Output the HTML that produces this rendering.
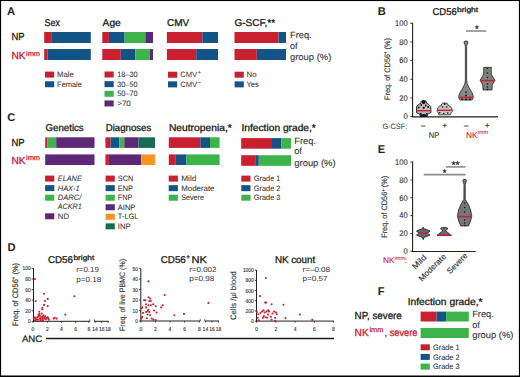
<!DOCTYPE html>
<html><head><meta charset="utf-8"><style>
html,body{margin:0;padding:0;background:#fff;}
svg{display:block;} text{text-rendering:geometricPrecision;}
</style></head><body>
<svg width="520" height="377" viewBox="0 0 520 377" font-family="Liberation Sans, sans-serif">
<rect width="520" height="377" fill="#fff"/>
<rect x="0.00" y="0.00" width="520.00" height="1.05" fill="#000"/>
<rect x="0.00" y="0.00" width="1.10" height="377.00" fill="#000"/>
<rect x="518.90" y="0.00" width="1.10" height="377.00" fill="#000"/>
<rect x="0.00" y="375.50" width="520.00" height="1.50" fill="#000"/>
<text x="7.00" y="14.60" font-size="11.2" fill="#231f20" font-weight="bold" text-anchor="start">A</text>
<text x="44.60" y="26.00" font-size="9.9" fill="#231f20" text-anchor="start" textLength="15.40" lengthAdjust="spacingAndGlyphs" stroke="#231f20" stroke-width="0.32">Sex</text>
<text x="102.60" y="25.80" font-size="9.9" fill="#231f20" text-anchor="start" textLength="18.20" lengthAdjust="spacingAndGlyphs" stroke="#231f20" stroke-width="0.32">Age</text>
<text x="167.00" y="26.00" font-size="9.9" fill="#231f20" text-anchor="start" textLength="22.30" lengthAdjust="spacingAndGlyphs" stroke="#231f20" stroke-width="0.32">CMV</text>
<text x="234.50" y="26.00" font-size="9.9" fill="#231f20" text-anchor="start" textLength="40.60" lengthAdjust="spacingAndGlyphs" stroke="#231f20" stroke-width="0.32">G-SCF,**</text>
<text x="11.50" y="40.40" font-size="10.2" fill="#231f20" text-anchor="start" textLength="13.10" lengthAdjust="spacingAndGlyphs" stroke="#231f20" stroke-width="0.3">NP</text>
<text x="11.50" y="59.20" font-size="10.2" fill="#c8202f" text-anchor="start" textLength="14.10" lengthAdjust="spacingAndGlyphs" stroke="#c8202f" stroke-width="0.3">NK</text>
<text x="26.00" y="55.80" font-size="7" fill="#c8202f" text-anchor="start" textLength="14.00" lengthAdjust="spacingAndGlyphs" stroke="#c8202f" stroke-width="0.25">imm</text>
<rect x="44.20" y="32.00" width="7.00" height="11.00" fill="#c8202f"/>
<rect x="51.20" y="32.00" width="39.60" height="11.00" fill="#145385"/>
<rect x="44.20" y="49.00" width="3.30" height="11.00" fill="#c8202f"/>
<rect x="47.50" y="49.00" width="43.30" height="11.00" fill="#145385"/>
<rect x="102.30" y="32.00" width="6.60" height="11.00" fill="#c8202f"/>
<rect x="108.90" y="32.00" width="15.70" height="11.00" fill="#145385"/>
<rect x="124.60" y="32.00" width="20.80" height="11.00" fill="#3cb44a"/>
<rect x="145.40" y="32.00" width="7.60" height="11.00" fill="#5c2877"/>
<rect x="102.30" y="49.00" width="18.50" height="11.00" fill="#c8202f"/>
<rect x="120.80" y="49.00" width="14.60" height="11.00" fill="#145385"/>
<rect x="135.40" y="49.00" width="14.30" height="11.00" fill="#3cb44a"/>
<rect x="149.70" y="49.00" width="3.30" height="11.00" fill="#5c2877"/>
<rect x="166.90" y="32.00" width="35.40" height="11.00" fill="#c8202f"/>
<rect x="202.30" y="32.00" width="15.70" height="11.00" fill="#145385"/>
<rect x="166.90" y="49.00" width="29.30" height="11.00" fill="#c8202f"/>
<rect x="196.20" y="49.00" width="21.80" height="11.00" fill="#145385"/>
<rect x="234.50" y="32.00" width="44.00" height="11.00" fill="#c8202f"/>
<rect x="278.50" y="32.00" width="7.50" height="11.00" fill="#145385"/>
<rect x="234.50" y="49.00" width="22.30" height="11.00" fill="#c8202f"/>
<rect x="256.80" y="49.00" width="29.20" height="11.00" fill="#145385"/>
<text x="290.00" y="37.70" font-size="9.1" fill="#333" text-anchor="start" textLength="21.60" lengthAdjust="spacingAndGlyphs" stroke="#333" stroke-width="0.1">Freq.</text>
<text x="290.00" y="48.80" font-size="9.1" fill="#333" text-anchor="start" stroke="#333" stroke-width="0.1">of</text>
<text x="290.00" y="60.30" font-size="9.1" fill="#333" text-anchor="start" textLength="41.30" lengthAdjust="spacingAndGlyphs" stroke="#333" stroke-width="0.1">group (%)</text>
<rect x="45.00" y="71.60" width="9.20" height="6.00" fill="#c8202f"/>
<text x="57.10" y="77.20" font-size="7.8" fill="#333" text-anchor="start" textLength="16.70" lengthAdjust="spacingAndGlyphs" stroke="#333" stroke-width="0.06">Male</text>
<rect x="45.00" y="81.25" width="9.20" height="6.00" fill="#145385"/>
<text x="57.10" y="86.85" font-size="7.8" fill="#333" text-anchor="start" textLength="24.80" lengthAdjust="spacingAndGlyphs" stroke="#333" stroke-width="0.06">Female</text>
<rect x="104.50" y="71.50" width="9.20" height="6.00" fill="#c8202f"/>
<text x="117.30" y="77.10" font-size="7.8" fill="#333" text-anchor="start" textLength="20.20" lengthAdjust="spacingAndGlyphs" stroke="#333" stroke-width="0.06">18–30</text>
<rect x="104.50" y="81.15" width="9.20" height="6.00" fill="#145385"/>
<text x="117.30" y="86.75" font-size="7.8" fill="#333" text-anchor="start" textLength="20.20" lengthAdjust="spacingAndGlyphs" stroke="#333" stroke-width="0.06">30–50</text>
<rect x="104.50" y="90.80" width="9.20" height="6.00" fill="#3cb44a"/>
<text x="117.30" y="96.40" font-size="7.8" fill="#333" text-anchor="start" textLength="20.20" lengthAdjust="spacingAndGlyphs" stroke="#333" stroke-width="0.06">50–70</text>
<rect x="104.50" y="100.45" width="9.20" height="6.00" fill="#5c2877"/>
<text x="117.30" y="106.05" font-size="7.8" fill="#333" text-anchor="start" textLength="13.50" lengthAdjust="spacingAndGlyphs" stroke="#333" stroke-width="0.06">&gt;70</text>
<rect x="168.00" y="71.70" width="9.20" height="6.00" fill="#c8202f"/>
<rect x="168.00" y="81.35" width="9.20" height="6.00" fill="#145385"/>
<text x="180.20" y="77.30" font-size="7.8" fill="#333" text-anchor="start" textLength="17.00" lengthAdjust="spacingAndGlyphs">CMV</text>
<text x="197.80" y="74.20" font-size="5.5" fill="#333" text-anchor="start" stroke="#333" stroke-width="0.15">+</text>
<text x="180.20" y="86.90" font-size="7.8" fill="#333" text-anchor="start" textLength="17.00" lengthAdjust="spacingAndGlyphs">CMV</text>
<text x="197.80" y="83.80" font-size="5.5" fill="#333" text-anchor="start" stroke="#333" stroke-width="0.15">–</text>
<rect x="234.60" y="71.70" width="9.20" height="6.00" fill="#c8202f"/>
<text x="246.50" y="77.30" font-size="7.8" fill="#333" text-anchor="start" textLength="10.00" lengthAdjust="spacingAndGlyphs" stroke="#333" stroke-width="0.06">No</text>
<rect x="234.60" y="81.35" width="9.20" height="6.00" fill="#145385"/>
<text x="246.50" y="86.95" font-size="7.8" fill="#333" text-anchor="start" textLength="12.20" lengthAdjust="spacingAndGlyphs" stroke="#333" stroke-width="0.06">Yes</text>
<text x="7.30" y="120.80" font-size="11.2" fill="#231f20" font-weight="bold" text-anchor="start">C</text>
<text x="45.60" y="131.00" font-size="9.9" fill="#231f20" text-anchor="start" textLength="38.10" lengthAdjust="spacingAndGlyphs" stroke="#231f20" stroke-width="0.32">Genetics</text>
<text x="105.80" y="130.80" font-size="9.9" fill="#231f20" text-anchor="start" textLength="45.40" lengthAdjust="spacingAndGlyphs" stroke="#231f20" stroke-width="0.32">Diagnoses</text>
<text x="168.90" y="130.80" font-size="9.9" fill="#231f20" text-anchor="start" textLength="62.90" lengthAdjust="spacingAndGlyphs" stroke="#231f20" stroke-width="0.32">Neutropenia,*</text>
<text x="241.50" y="130.80" font-size="9.9" fill="#231f20" text-anchor="start" textLength="74.30" lengthAdjust="spacingAndGlyphs" stroke="#231f20" stroke-width="0.32">Infection grade,*</text>
<text x="11.50" y="145.80" font-size="10.2" fill="#231f20" text-anchor="start" textLength="13.10" lengthAdjust="spacingAndGlyphs" stroke="#231f20" stroke-width="0.3">NP</text>
<text x="11.50" y="163.60" font-size="10.2" fill="#c8202f" text-anchor="start" textLength="14.10" lengthAdjust="spacingAndGlyphs" stroke="#c8202f" stroke-width="0.3">NK</text>
<text x="26.00" y="160.20" font-size="7" fill="#c8202f" text-anchor="start" textLength="14.00" lengthAdjust="spacingAndGlyphs" stroke="#c8202f" stroke-width="0.25">imm</text>
<rect x="45.20" y="137.30" width="2.30" height="10.60" fill="#c8202f"/>
<rect x="47.50" y="137.30" width="8.70" height="10.60" fill="#3cb44a"/>
<rect x="56.20" y="137.30" width="38.30" height="10.60" fill="#5c2877"/>
<rect x="45.20" y="154.40" width="49.30" height="10.60" fill="#5c2877"/>
<rect x="105.40" y="137.30" width="5.10" height="10.60" fill="#c8202f"/>
<rect x="110.50" y="137.30" width="8.70" height="10.60" fill="#145385"/>
<rect x="119.20" y="137.30" width="5.10" height="10.60" fill="#3cb44a"/>
<rect x="124.30" y="137.30" width="14.20" height="10.60" fill="#5c2877"/>
<rect x="138.50" y="137.30" width="16.60" height="10.60" fill="#166b53"/>
<rect x="105.40" y="154.40" width="3.50" height="10.60" fill="#c8202f"/>
<rect x="108.90" y="154.40" width="32.30" height="10.60" fill="#5c2877"/>
<rect x="141.20" y="154.40" width="13.90" height="10.60" fill="#f6941f"/>
<rect x="168.80" y="137.30" width="31.50" height="10.60" fill="#c8202f"/>
<rect x="200.30" y="137.30" width="9.70" height="10.60" fill="#145385"/>
<rect x="210.00" y="137.30" width="9.60" height="10.60" fill="#3cb44a"/>
<rect x="168.80" y="154.40" width="7.00" height="10.60" fill="#c8202f"/>
<rect x="175.80" y="154.40" width="10.70" height="10.60" fill="#145385"/>
<rect x="186.50" y="154.40" width="33.10" height="10.60" fill="#3cb44a"/>
<rect x="241.20" y="138.10" width="30.80" height="10.60" fill="#c8202f"/>
<rect x="272.00" y="138.10" width="9.50" height="10.60" fill="#145385"/>
<rect x="281.50" y="138.10" width="9.50" height="10.60" fill="#3cb44a"/>
<rect x="241.20" y="155.20" width="14.00" height="10.60" fill="#c8202f"/>
<rect x="255.20" y="155.20" width="3.60" height="10.60" fill="#145385"/>
<rect x="258.80" y="155.20" width="32.20" height="10.60" fill="#3cb44a"/>
<text x="294.30" y="143.60" font-size="9.1" fill="#333" text-anchor="start" textLength="21.60" lengthAdjust="spacingAndGlyphs" stroke="#333" stroke-width="0.1">Freq.</text>
<text x="294.30" y="154.40" font-size="9.1" fill="#333" text-anchor="start" stroke="#333" stroke-width="0.1">of</text>
<text x="294.30" y="166.20" font-size="9.1" fill="#333" text-anchor="start" textLength="41.30" lengthAdjust="spacingAndGlyphs" stroke="#333" stroke-width="0.1">group (%)</text>
<rect x="45.10" y="175.60" width="9.20" height="6.00" fill="#c8202f"/>
<text x="57.80" y="181.20" font-size="7.8" fill="#333" font-style="italic" text-anchor="start" textLength="24.00" lengthAdjust="spacingAndGlyphs" stroke="#333" stroke-width="0.06">ELANE</text>
<rect x="45.10" y="185.10" width="9.20" height="6.00" fill="#145385"/>
<text x="57.80" y="190.70" font-size="7.8" fill="#333" font-style="italic" text-anchor="start" textLength="21.90" lengthAdjust="spacingAndGlyphs" stroke="#333" stroke-width="0.06">HAX-1</text>
<rect x="45.10" y="194.70" width="9.20" height="6.00" fill="#3cb44a"/>
<text x="57.80" y="200.30" font-size="7.8" fill="#333" font-style="italic" text-anchor="start" textLength="23.50" lengthAdjust="spacingAndGlyphs" stroke="#333" stroke-width="0.06">DARC/</text>
<text x="57.80" y="209.00" font-size="7.8" fill="#333" font-style="italic" text-anchor="start" textLength="24.00" lengthAdjust="spacingAndGlyphs" stroke="#333" stroke-width="0.06">ACKR1</text>
<rect x="45.10" y="213.30" width="9.20" height="6.00" fill="#5c2877"/>
<text x="57.80" y="218.90" font-size="7.8" fill="#333" text-anchor="start" textLength="11.20" lengthAdjust="spacingAndGlyphs" stroke="#333" stroke-width="0.06">ND</text>
<rect x="105.60" y="175.60" width="9.20" height="6.00" fill="#c8202f"/>
<text x="117.80" y="181.20" font-size="7.8" fill="#333" text-anchor="start" textLength="15.50" lengthAdjust="spacingAndGlyphs" stroke="#333" stroke-width="0.06">SCN</text>
<rect x="105.60" y="185.15" width="9.20" height="6.00" fill="#145385"/>
<text x="117.80" y="190.75" font-size="7.8" fill="#333" text-anchor="start" textLength="15.20" lengthAdjust="spacingAndGlyphs" stroke="#333" stroke-width="0.06">ENP</text>
<rect x="105.60" y="194.70" width="9.20" height="6.00" fill="#3cb44a"/>
<text x="117.80" y="200.30" font-size="7.8" fill="#333" text-anchor="start" textLength="14.70" lengthAdjust="spacingAndGlyphs" stroke="#333" stroke-width="0.06">FNP</text>
<rect x="105.60" y="204.25" width="9.20" height="6.00" fill="#5c2877"/>
<text x="117.80" y="209.85" font-size="7.8" fill="#333" text-anchor="start" textLength="17.60" lengthAdjust="spacingAndGlyphs" stroke="#333" stroke-width="0.06">AINP</text>
<rect x="105.60" y="213.80" width="9.20" height="6.00" fill="#f6941f"/>
<text x="117.80" y="219.40" font-size="7.8" fill="#333" text-anchor="start" textLength="20.60" lengthAdjust="spacingAndGlyphs" stroke="#333" stroke-width="0.06">T-LGL</text>
<rect x="105.60" y="223.35" width="9.20" height="6.00" fill="#166b53"/>
<text x="117.80" y="228.95" font-size="7.8" fill="#333" text-anchor="start" textLength="12.80" lengthAdjust="spacingAndGlyphs" stroke="#333" stroke-width="0.06">INP</text>
<rect x="168.70" y="175.60" width="9.20" height="6.00" fill="#c8202f"/>
<text x="181.20" y="181.20" font-size="7.8" fill="#333" text-anchor="start" textLength="15.10" lengthAdjust="spacingAndGlyphs" stroke="#333" stroke-width="0.06">Mild</text>
<rect x="168.70" y="185.15" width="9.20" height="6.00" fill="#145385"/>
<text x="181.20" y="190.75" font-size="7.8" fill="#333" text-anchor="start" textLength="33.30" lengthAdjust="spacingAndGlyphs" stroke="#333" stroke-width="0.06">Moderate</text>
<rect x="168.70" y="194.70" width="9.20" height="6.00" fill="#3cb44a"/>
<text x="181.20" y="200.30" font-size="7.8" fill="#333" text-anchor="start" textLength="22.80" lengthAdjust="spacingAndGlyphs" stroke="#333" stroke-width="0.06">Severe</text>
<rect x="241.30" y="175.60" width="9.20" height="6.00" fill="#c8202f"/>
<text x="253.70" y="181.20" font-size="7.8" fill="#333" text-anchor="start" textLength="26.80" lengthAdjust="spacingAndGlyphs" stroke="#333" stroke-width="0.06">Grade 1</text>
<rect x="241.30" y="185.15" width="9.20" height="6.00" fill="#145385"/>
<text x="253.70" y="190.75" font-size="7.8" fill="#333" text-anchor="start" textLength="26.80" lengthAdjust="spacingAndGlyphs" stroke="#333" stroke-width="0.06">Grade 2</text>
<rect x="241.30" y="194.70" width="9.20" height="6.00" fill="#3cb44a"/>
<text x="253.70" y="200.30" font-size="7.8" fill="#333" text-anchor="start" textLength="26.80" lengthAdjust="spacingAndGlyphs" stroke="#333" stroke-width="0.06">Grade 3</text>
<text x="377.70" y="295.00" font-size="11.2" fill="#231f20" font-weight="bold" text-anchor="start">F</text>
<text x="407.70" y="304.70" font-size="9.9" fill="#231f20" text-anchor="start" textLength="74.90" lengthAdjust="spacingAndGlyphs" stroke="#231f20" stroke-width="0.32">Infection grade,*</text>
<text x="354.60" y="318.50" font-size="10.2" fill="#231f20" text-anchor="start" textLength="47.20" lengthAdjust="spacingAndGlyphs" stroke="#231f20" stroke-width="0.3">NP, severe</text>
<text x="354.60" y="335.50" font-size="10.2" fill="#c8202f" text-anchor="start" textLength="14.10" lengthAdjust="spacingAndGlyphs" stroke="#c8202f" stroke-width="0.3">NK</text>
<text x="369.40" y="332.00" font-size="7" fill="#c8202f" text-anchor="start" textLength="14.00" lengthAdjust="spacingAndGlyphs" stroke="#c8202f" stroke-width="0.25">imm</text>
<text x="384.50" y="335.50" font-size="10.2" fill="#c8202f" text-anchor="start" textLength="32.90" lengthAdjust="spacingAndGlyphs" stroke="#c8202f" stroke-width="0.3">, severe</text>
<rect x="420.60" y="311.60" width="15.90" height="9.90" fill="#c8202f"/>
<rect x="436.50" y="311.60" width="9.60" height="9.90" fill="#145385"/>
<rect x="446.10" y="311.60" width="22.70" height="9.90" fill="#3cb44a"/>
<rect x="420.60" y="328.00" width="48.20" height="10.00" fill="#3cb44a"/>
<text x="472.20" y="317.30" font-size="9.1" fill="#333" text-anchor="start" textLength="21.60" lengthAdjust="spacingAndGlyphs" stroke="#333" stroke-width="0.1">Freq.</text>
<text x="472.20" y="327.80" font-size="9.1" fill="#333" text-anchor="start" stroke="#333" stroke-width="0.1">of</text>
<text x="472.20" y="338.40" font-size="9.1" fill="#333" text-anchor="start" textLength="41.30" lengthAdjust="spacingAndGlyphs" stroke="#333" stroke-width="0.1">group (%)</text>
<rect x="420.60" y="344.30" width="9.20" height="6.00" fill="#c8202f"/>
<text x="432.90" y="349.90" font-size="7.8" fill="#333" text-anchor="start" textLength="26.80" lengthAdjust="spacingAndGlyphs" stroke="#333" stroke-width="0.06">Grade 1</text>
<rect x="420.60" y="353.90" width="9.20" height="6.00" fill="#145385"/>
<text x="432.90" y="359.50" font-size="7.8" fill="#333" text-anchor="start" textLength="26.80" lengthAdjust="spacingAndGlyphs" stroke="#333" stroke-width="0.06">Grade 2</text>
<rect x="420.60" y="363.60" width="9.20" height="6.00" fill="#3cb44a"/>
<text x="432.90" y="369.20" font-size="7.8" fill="#333" text-anchor="start" textLength="26.80" lengthAdjust="spacingAndGlyphs" stroke="#333" stroke-width="0.06">Grade 3</text>
<text x="377.70" y="15.00" font-size="11.2" fill="#231f20" font-weight="bold" text-anchor="start">B</text>
<text x="432.50" y="15.00" font-size="9.9" fill="#231f20" text-anchor="start" textLength="24.30" lengthAdjust="spacingAndGlyphs" stroke="#231f20" stroke-width="0.32">CD56</text>
<text x="457.00" y="11.60" font-size="6.9" fill="#231f20" text-anchor="start" textLength="21.20" lengthAdjust="spacingAndGlyphs" stroke="#231f20" stroke-width="0.3">bright</text>
<line x1="412.60" y1="22.80" x2="412.60" y2="117.10" stroke="#231f20" stroke-width="1.1"/>
<line x1="410.40" y1="116.60" x2="412.60" y2="116.60" stroke="#231f20" stroke-width="0.9"/>
<text x="407.60" y="119.40" font-size="8.2" fill="#333" text-anchor="end" textLength="4.20" lengthAdjust="spacingAndGlyphs" stroke="#333" stroke-width="0.1">0</text>
<line x1="410.40" y1="97.94" x2="412.60" y2="97.94" stroke="#231f20" stroke-width="0.9"/>
<text x="407.60" y="100.74" font-size="8.2" fill="#333" text-anchor="end" textLength="8.40" lengthAdjust="spacingAndGlyphs" stroke="#333" stroke-width="0.1">20</text>
<line x1="410.40" y1="79.28" x2="412.60" y2="79.28" stroke="#231f20" stroke-width="0.9"/>
<text x="407.60" y="82.08" font-size="8.2" fill="#333" text-anchor="end" textLength="8.40" lengthAdjust="spacingAndGlyphs" stroke="#333" stroke-width="0.1">40</text>
<line x1="410.40" y1="60.62" x2="412.60" y2="60.62" stroke="#231f20" stroke-width="0.9"/>
<text x="407.60" y="63.42" font-size="8.2" fill="#333" text-anchor="end" textLength="8.40" lengthAdjust="spacingAndGlyphs" stroke="#333" stroke-width="0.1">60</text>
<line x1="410.40" y1="41.96" x2="412.60" y2="41.96" stroke="#231f20" stroke-width="0.9"/>
<text x="407.60" y="44.76" font-size="8.2" fill="#333" text-anchor="end" textLength="8.40" lengthAdjust="spacingAndGlyphs" stroke="#333" stroke-width="0.1">80</text>
<line x1="410.40" y1="23.30" x2="412.60" y2="23.30" stroke="#231f20" stroke-width="0.9"/>
<text x="407.60" y="26.10" font-size="8.2" fill="#333" text-anchor="end" textLength="12.60" lengthAdjust="spacingAndGlyphs" stroke="#333" stroke-width="0.1">100</text>
<line x1="412.00" y1="116.90" x2="498.00" y2="116.90" stroke="#231f20" stroke-width="1.1"/>
<text transform="translate(389.60,69.00) rotate(-90)" font-size="7.9" fill="#333" stroke="#333" stroke-width="0.14" text-anchor="middle" textLength="62.00" lengthAdjust="spacingAndGlyphs">Freq. of CD56<tspan dy="-2.6" font-size="4.6">+</tspan><tspan dy="2.6"> (%)</tspan></text>
<text x="407.30" y="128.60" font-size="7.8" fill="#333" text-anchor="end" textLength="24.90" lengthAdjust="spacingAndGlyphs">G-CSF:</text>
<text x="423.20" y="128.30" font-size="7.8" fill="#333" text-anchor="middle" stroke="#333" stroke-width="0.25">–</text>
<text x="444.70" y="128.30" font-size="7.8" fill="#333" text-anchor="middle" stroke="#333" stroke-width="0.25">+</text>
<text x="466.20" y="128.30" font-size="7.8" fill="#333" text-anchor="middle" stroke="#333" stroke-width="0.25">–</text>
<text x="487.30" y="128.30" font-size="7.8" fill="#333" text-anchor="middle" stroke="#333" stroke-width="0.25">+</text>
<text x="428.80" y="137.70" font-size="8.3" fill="#333" text-anchor="start" textLength="10.60" lengthAdjust="spacingAndGlyphs" stroke="#333" stroke-width="0.1">NP</text>
<text x="466.00" y="137.60" font-size="8.3" fill="#c8202f" text-anchor="start" textLength="11.50" lengthAdjust="spacingAndGlyphs" stroke="#c8202f" stroke-width="0.1">NK</text>
<text x="477.60" y="134.40" font-size="5.6" fill="#c8202f" text-anchor="start" textLength="10.60" lengthAdjust="spacingAndGlyphs" stroke="#c8202f" stroke-width="0.05">imm</text>
<line x1="466.00" y1="31.00" x2="486.30" y2="31.00" stroke="#8c8c8c" stroke-width="1.6"/>
<text x="476.90" y="32.20" font-size="9.5" fill="#222" text-anchor="middle" stroke="#222" stroke-width="0.25">*</text>
<path d="M421.70,101.00 L421.10,101.60 L421.10,103.00 L419.50,103.80 L418.10,105.00 L416.70,106.50 L416.40,112.50 L418.50,113.50 L420.10,114.50 L420.10,116.40 L427.30,116.40 L427.30,114.50 L428.90,113.50 L431.00,112.50 L430.70,106.50 L429.30,105.00 L427.90,103.80 L426.30,103.00 L426.30,101.60 L425.70,101.00Z" fill="#bdbdbd" stroke="#111" stroke-width="0.9" stroke-linejoin="round"/>
<circle cx="423.70" cy="102.00" r="1.9" fill="#111"/>
<circle cx="421.20" cy="105.00" r="0.9" fill="#111"/>
<circle cx="425.70" cy="105.50" r="0.9" fill="#111"/>
<circle cx="418.70" cy="107.50" r="1" fill="#111"/>
<circle cx="428.20" cy="107.00" r="1" fill="#111"/>
<circle cx="423.70" cy="107.80" r="1.1" fill="#111"/>
<circle cx="420.70" cy="113.80" r="1" fill="#111"/>
<circle cx="426.70" cy="113.80" r="1" fill="#111"/>
<circle cx="423.70" cy="115.40" r="1.6" fill="#111"/>
<circle cx="421.70" cy="115.60" r="1.3" fill="#111"/>
<circle cx="425.70" cy="115.60" r="1.3" fill="#111"/>
<line x1="416.50" y1="110.70" x2="430.90" y2="110.70" stroke="#c8202f" stroke-width="1.4"/>
<path d="M442.70,103.10 L441.50,104.00 L441.50,105.40 L439.20,106.20 L437.50,108.50 L437.10,111.50 L438.10,112.50 L438.90,114.80 L450.50,114.80 L451.30,112.50 L452.30,111.50 L451.90,108.50 L450.20,106.20 L447.90,105.40 L447.90,104.00 L446.70,103.10Z" fill="#c4c4c4" stroke="#111" stroke-width="0.7" stroke-linejoin="round"/>
<circle cx="444.70" cy="104.00" r="0.9" fill="#111"/>
<circle cx="442.70" cy="107.00" r="0.8" fill="#111"/>
<circle cx="446.70" cy="107.00" r="0.8" fill="#111"/>
<circle cx="439.70" cy="112.80" r="0.8" fill="#111"/>
<circle cx="443.70" cy="113.50" r="0.8" fill="#111"/>
<circle cx="447.70" cy="113.00" r="0.8" fill="#111"/>
<line x1="437.10" y1="110.30" x2="452.30" y2="110.30" stroke="#c8202f" stroke-width="1.4"/>
<path d="M465.00,41.00 L464.20,41.60 L464.10,43.00 L464.80,44.50 L465.35,46.50 L465.35,80.00 L465.00,83.00 L463.80,86.00 L461.70,89.80 L459.80,93.00 L458.80,95.70 L458.90,98.00 L459.50,99.50 L460.50,100.10 L471.50,100.10 L472.50,99.50 L473.10,98.00 L473.20,95.70 L472.20,93.00 L470.30,89.80 L468.20,86.00 L467.00,83.00 L466.65,80.00 L466.65,46.50 L467.20,44.50 L467.90,43.00 L467.80,41.60 L467.00,41.00Z" fill="#888" stroke="#111" stroke-width="0.7" stroke-linejoin="round"/>
<circle cx="466.00" cy="92.10" r="0.9" fill="#111"/>
<circle cx="466.00" cy="95.50" r="0.9" fill="#111"/>
<circle cx="462.00" cy="99.20" r="0.9" fill="#111"/>
<circle cx="466.00" cy="99.40" r="0.9" fill="#111"/>
<circle cx="470.00" cy="99.20" r="0.9" fill="#111"/>
<line x1="458.90" y1="97.40" x2="473.10" y2="97.40" stroke="#c8202f" stroke-width="1.4"/>
<path d="M483.70,67.30 L483.70,74.30 L480.10,80.20 L482.70,84.90 L483.00,90.00 L492.00,90.00 L492.30,84.90 L494.90,80.20 L491.30,74.30 L491.30,67.30Z" fill="#808080" stroke="#111" stroke-width="0.7" stroke-linejoin="round"/>
<circle cx="487.50" cy="68.50" r="0.8" fill="#111"/>
<circle cx="487.50" cy="73.00" r="0.8" fill="#111"/>
<circle cx="487.50" cy="77.50" r="0.8" fill="#111"/>
<circle cx="487.50" cy="84.00" r="0.8" fill="#111"/>
<circle cx="487.50" cy="87.00" r="0.8" fill="#111"/>
<circle cx="487.50" cy="89.50" r="0.8" fill="#111"/>
<line x1="480.10" y1="80.50" x2="494.90" y2="80.50" stroke="#c8202f" stroke-width="1.4"/>
<text x="377.70" y="152.50" font-size="11.2" fill="#231f20" font-weight="bold" text-anchor="start">E</text>
<line x1="412.60" y1="161.60" x2="412.60" y2="251.80" stroke="#231f20" stroke-width="1.1"/>
<line x1="410.40" y1="251.30" x2="412.60" y2="251.30" stroke="#231f20" stroke-width="0.9"/>
<text x="407.60" y="254.10" font-size="8.2" fill="#333" text-anchor="end" textLength="4.20" lengthAdjust="spacingAndGlyphs" stroke="#333" stroke-width="0.1">0</text>
<line x1="410.40" y1="233.46" x2="412.60" y2="233.46" stroke="#231f20" stroke-width="0.9"/>
<text x="407.60" y="236.26" font-size="8.2" fill="#333" text-anchor="end" textLength="8.40" lengthAdjust="spacingAndGlyphs" stroke="#333" stroke-width="0.1">20</text>
<line x1="410.40" y1="215.62" x2="412.60" y2="215.62" stroke="#231f20" stroke-width="0.9"/>
<text x="407.60" y="218.42" font-size="8.2" fill="#333" text-anchor="end" textLength="8.40" lengthAdjust="spacingAndGlyphs" stroke="#333" stroke-width="0.1">40</text>
<line x1="410.40" y1="197.78" x2="412.60" y2="197.78" stroke="#231f20" stroke-width="0.9"/>
<text x="407.60" y="200.58" font-size="8.2" fill="#333" text-anchor="end" textLength="8.40" lengthAdjust="spacingAndGlyphs" stroke="#333" stroke-width="0.1">60</text>
<line x1="410.40" y1="179.94" x2="412.60" y2="179.94" stroke="#231f20" stroke-width="0.9"/>
<text x="407.60" y="182.74" font-size="8.2" fill="#333" text-anchor="end" textLength="8.40" lengthAdjust="spacingAndGlyphs" stroke="#333" stroke-width="0.1">80</text>
<line x1="410.40" y1="162.10" x2="412.60" y2="162.10" stroke="#231f20" stroke-width="0.9"/>
<text x="407.60" y="164.90" font-size="8.2" fill="#333" text-anchor="end" textLength="12.60" lengthAdjust="spacingAndGlyphs" stroke="#333" stroke-width="0.1">100</text>
<line x1="412.00" y1="251.50" x2="475.60" y2="251.50" stroke="#231f20" stroke-width="1.1"/>
<text transform="translate(387.10,206.80) rotate(-90)" font-size="7.9" fill="#333" stroke="#333" stroke-width="0.14" text-anchor="middle" textLength="62.00" lengthAdjust="spacingAndGlyphs">Freq. of CD56<tspan dy="-2.6" font-size="4.6">+</tspan><tspan dy="2.6"> (%)</tspan></text>
<line x1="446.00" y1="166.90" x2="465.60" y2="166.90" stroke="#8c8c8c" stroke-width="1.6"/>
<line x1="423.80" y1="174.60" x2="465.60" y2="174.60" stroke="#8c8c8c" stroke-width="1.6"/>
<text x="455.60" y="167.80" font-size="9.5" fill="#222" text-anchor="middle" textLength="8.20" lengthAdjust="spacingAndGlyphs" stroke="#222" stroke-width="0.25">**</text>
<text x="444.60" y="176.30" font-size="9.5" fill="#222" text-anchor="middle" stroke="#222" stroke-width="0.25">*</text>
<path d="M422.90,227.30 L422.70,228.60 L419.70,229.50 L416.40,230.90 L417.70,232.20 L418.70,233.30 L417.70,234.20 L416.40,235.10 L419.70,236.50 L422.70,237.60 L422.90,239.40 L423.50,239.40 L423.70,237.60 L426.70,236.50 L430.00,235.10 L428.70,234.20 L427.70,233.30 L428.70,232.20 L430.00,230.90 L426.70,229.50 L423.70,228.60 L423.50,227.30Z" fill="#666" stroke="#111" stroke-width="0.7" stroke-linejoin="round"/>
<line x1="418.60" y1="233.30" x2="427.80" y2="233.30" stroke="#c8202f" stroke-width="1.4"/>
<path d="M442.70,227.40 L441.00,227.90 L440.60,228.80 L441.70,229.80 L442.80,230.60 L441.20,232.00 L438.70,234.00 L437.00,235.60 L451.40,235.60 L449.70,234.00 L447.20,232.00 L445.60,230.60 L446.70,229.80 L447.80,228.80 L447.40,227.90 L445.70,227.40Z" fill="#6a6a6a" stroke="#111" stroke-width="0.7" stroke-linejoin="round"/>
<line x1="437.00" y1="235.00" x2="451.40" y2="235.00" stroke="#c8202f" stroke-width="1.4"/>
<path d="M464.00,179.30 L463.30,179.70 L462.80,180.60 L463.00,181.80 L463.60,183.00 L463.95,184.50 L463.90,199.30 L460.60,205.00 L458.60,210.00 L457.40,215.70 L458.30,220.00 L460.70,226.00 L468.50,226.00 L470.90,220.00 L471.80,215.70 L470.60,210.00 L468.60,205.00 L465.30,199.30 L465.25,184.50 L465.60,183.00 L466.20,181.80 L466.40,180.60 L465.90,179.70 L465.20,179.30Z" fill="#777" stroke="#111" stroke-width="0.7" stroke-linejoin="round"/>
<circle cx="464.60" cy="203.00" r="0.8" fill="#111"/>
<circle cx="464.60" cy="207.50" r="0.8" fill="#111"/>
<circle cx="464.60" cy="212.00" r="0.8" fill="#111"/>
<circle cx="464.60" cy="220.00" r="0.8" fill="#111"/>
<circle cx="464.60" cy="223.00" r="0.8" fill="#111"/>
<circle cx="464.60" cy="225.50" r="0.8" fill="#111"/>
<line x1="457.60" y1="216.60" x2="471.60" y2="216.60" stroke="#c8202f" stroke-width="1.4"/>
<text x="383.00" y="262.70" font-size="8.3" fill="#c8202f" text-anchor="start" textLength="11.50" lengthAdjust="spacingAndGlyphs" stroke="#c8202f" stroke-width="0.1">NK</text>
<text x="394.60" y="259.60" font-size="5.6" fill="#c8202f" text-anchor="start" textLength="10.60" lengthAdjust="spacingAndGlyphs" stroke="#c8202f" stroke-width="0.05">imm</text>
<text x="404.80" y="262.70" font-size="8.3" fill="#c8202f" text-anchor="start" stroke="#c8202f" stroke-width="0.1">:</text>
<text transform="translate(427.00,258.00) rotate(-45)" font-size="8" fill="#333" stroke="#333" stroke-width="0.15" text-anchor="end" textLength="16.50" lengthAdjust="spacingAndGlyphs">Mild</text>
<text transform="translate(446.70,257.00) rotate(-45)" font-size="8" fill="#333" stroke="#333" stroke-width="0.15" text-anchor="end" textLength="35.00" lengthAdjust="spacingAndGlyphs">Moderate</text>
<text transform="translate(468.00,256.20) rotate(-45)" font-size="8" fill="#333" stroke="#333" stroke-width="0.15" text-anchor="end" textLength="25.50" lengthAdjust="spacingAndGlyphs">Severe</text>
<text x="7.40" y="250.70" font-size="11.2" fill="#231f20" font-weight="bold" text-anchor="start">D</text>
<line x1="33.50" y1="268.20" x2="33.50" y2="321.80" stroke="#231f20" stroke-width="1.0"/>
<line x1="31.70" y1="321.30" x2="33.50" y2="321.30" stroke="#231f20" stroke-width="0.8"/>
<text x="30.70" y="323.30" font-size="5.8" fill="#2a2a2a" text-anchor="end" textLength="2.70" lengthAdjust="spacingAndGlyphs" stroke="#2a2a2a" stroke-width="0.12">0</text>
<line x1="31.70" y1="310.72" x2="33.50" y2="310.72" stroke="#231f20" stroke-width="0.8"/>
<text x="30.70" y="312.72" font-size="5.8" fill="#2a2a2a" text-anchor="end" textLength="5.40" lengthAdjust="spacingAndGlyphs" stroke="#2a2a2a" stroke-width="0.12">20</text>
<line x1="31.70" y1="300.14" x2="33.50" y2="300.14" stroke="#231f20" stroke-width="0.8"/>
<text x="30.70" y="302.14" font-size="5.8" fill="#2a2a2a" text-anchor="end" textLength="5.40" lengthAdjust="spacingAndGlyphs" stroke="#2a2a2a" stroke-width="0.12">40</text>
<line x1="31.70" y1="289.56" x2="33.50" y2="289.56" stroke="#231f20" stroke-width="0.8"/>
<text x="30.70" y="291.56" font-size="5.8" fill="#2a2a2a" text-anchor="end" textLength="5.40" lengthAdjust="spacingAndGlyphs" stroke="#2a2a2a" stroke-width="0.12">60</text>
<line x1="31.70" y1="278.98" x2="33.50" y2="278.98" stroke="#231f20" stroke-width="0.8"/>
<text x="30.70" y="280.98" font-size="5.8" fill="#2a2a2a" text-anchor="end" textLength="5.40" lengthAdjust="spacingAndGlyphs" stroke="#2a2a2a" stroke-width="0.12">80</text>
<line x1="31.70" y1="268.40" x2="33.50" y2="268.40" stroke="#231f20" stroke-width="0.8"/>
<text x="30.70" y="270.40" font-size="5.8" fill="#2a2a2a" text-anchor="end" textLength="8.10" lengthAdjust="spacingAndGlyphs" stroke="#2a2a2a" stroke-width="0.12">100</text>
<line x1="33.50" y1="321.30" x2="89.80" y2="321.30" stroke="#231f20" stroke-width="1.0"/>
<line x1="94.40" y1="321.30" x2="108.80" y2="321.30" stroke="#231f20" stroke-width="1.0"/>
<line x1="89.80" y1="321.30" x2="89.80" y2="319.50" stroke="#231f20" stroke-width="0.8"/>
<line x1="94.40" y1="321.30" x2="94.40" y2="319.50" stroke="#231f20" stroke-width="0.8"/>
<line x1="33.00" y1="321.30" x2="33.00" y2="322.90" stroke="#231f20" stroke-width="0.8"/>
<text x="33.00" y="331.20" font-size="5.8" fill="#2a2a2a" text-anchor="middle" textLength="2.80" lengthAdjust="spacingAndGlyphs" stroke="#2a2a2a" stroke-width="0.12">0</text>
<line x1="47.30" y1="321.30" x2="47.30" y2="322.90" stroke="#231f20" stroke-width="0.8"/>
<text x="47.30" y="331.20" font-size="5.8" fill="#2a2a2a" text-anchor="middle" textLength="2.80" lengthAdjust="spacingAndGlyphs" stroke="#2a2a2a" stroke-width="0.12">2</text>
<line x1="61.50" y1="321.30" x2="61.50" y2="322.90" stroke="#231f20" stroke-width="0.8"/>
<text x="61.50" y="331.20" font-size="5.8" fill="#2a2a2a" text-anchor="middle" textLength="2.80" lengthAdjust="spacingAndGlyphs" stroke="#2a2a2a" stroke-width="0.12">4</text>
<line x1="75.70" y1="321.30" x2="75.70" y2="322.90" stroke="#231f20" stroke-width="0.8"/>
<text x="75.70" y="331.20" font-size="5.8" fill="#2a2a2a" text-anchor="middle" textLength="2.80" lengthAdjust="spacingAndGlyphs" stroke="#2a2a2a" stroke-width="0.12">6</text>
<line x1="88.80" y1="321.30" x2="88.80" y2="322.90" stroke="#231f20" stroke-width="0.8"/>
<text x="88.80" y="331.20" font-size="5.8" fill="#2a2a2a" text-anchor="middle" textLength="2.80" lengthAdjust="spacingAndGlyphs" stroke="#2a2a2a" stroke-width="0.12">8</text>
<line x1="95.00" y1="321.30" x2="95.00" y2="322.90" stroke="#231f20" stroke-width="0.8"/>
<text x="95.00" y="331.20" font-size="5.8" fill="#2a2a2a" text-anchor="middle" textLength="5.60" lengthAdjust="spacingAndGlyphs" stroke="#2a2a2a" stroke-width="0.12">14</text>
<line x1="101.70" y1="321.30" x2="101.70" y2="322.90" stroke="#231f20" stroke-width="0.8"/>
<text x="101.70" y="331.20" font-size="5.8" fill="#2a2a2a" text-anchor="middle" textLength="5.60" lengthAdjust="spacingAndGlyphs" stroke="#2a2a2a" stroke-width="0.12">16</text>
<line x1="108.00" y1="321.30" x2="108.00" y2="322.90" stroke="#231f20" stroke-width="0.8"/>
<text x="108.00" y="331.20" font-size="5.8" fill="#2a2a2a" text-anchor="middle" textLength="5.60" lengthAdjust="spacingAndGlyphs" stroke="#2a2a2a" stroke-width="0.12">18</text>
<text x="48.00" y="262.60" font-size="9.9" fill="#231f20" text-anchor="start" textLength="25.00" lengthAdjust="spacingAndGlyphs" stroke="#231f20" stroke-width="0.32">CD56</text>
<text x="73.50" y="259.70" font-size="6.9" fill="#231f20" text-anchor="start" textLength="20.70" lengthAdjust="spacingAndGlyphs" stroke="#231f20" stroke-width="0.3">bright</text>
<text x="76.20" y="271.50" font-size="7.4" fill="#333" text-anchor="start" textLength="22.70" lengthAdjust="spacingAndGlyphs">r=0.19</text>
<text x="76.20" y="281.50" font-size="7.4" fill="#333" text-anchor="start" textLength="25.00" lengthAdjust="spacingAndGlyphs">p=0.18</text>
<text transform="translate(17.60,294.50) rotate(-90)" font-size="7.9" fill="#333" stroke="#333" stroke-width="0.14" text-anchor="middle" textLength="63.00" lengthAdjust="spacingAndGlyphs">Freq. of CD56<tspan dy="-2.6" font-size="4.6">+</tspan><tspan dy="2.6"> (%)</tspan></text>
<circle cx="44.10" cy="293.80" r="1.05" fill="#c8202f"/>
<circle cx="35.70" cy="301.10" r="1.05" fill="#c8202f"/>
<circle cx="47.70" cy="298.90" r="1.05" fill="#c8202f"/>
<circle cx="45.00" cy="301.00" r="1.05" fill="#c8202f"/>
<circle cx="44.10" cy="304.90" r="1.05" fill="#c8202f"/>
<circle cx="47.70" cy="306.10" r="1.05" fill="#c8202f"/>
<circle cx="42.30" cy="307.70" r="1.05" fill="#c8202f"/>
<circle cx="42.30" cy="309.30" r="1.05" fill="#c8202f"/>
<circle cx="39.30" cy="311.80" r="1.05" fill="#c8202f"/>
<circle cx="65.30" cy="314.50" r="1.05" fill="#c8202f"/>
<circle cx="74.50" cy="296.20" r="1.05" fill="#c8202f"/>
<circle cx="33.90" cy="318.60" r="1.05" fill="#c8202f"/>
<circle cx="34.50" cy="317.20" r="1.05" fill="#c8202f"/>
<circle cx="35.70" cy="318.00" r="1.05" fill="#c8202f"/>
<circle cx="36.30" cy="319.80" r="1.05" fill="#c8202f"/>
<circle cx="36.90" cy="319.20" r="1.05" fill="#c8202f"/>
<circle cx="37.50" cy="317.20" r="1.05" fill="#c8202f"/>
<circle cx="38.10" cy="316.50" r="1.05" fill="#c8202f"/>
<circle cx="38.70" cy="315.10" r="1.05" fill="#c8202f"/>
<circle cx="39.30" cy="313.90" r="1.05" fill="#c8202f"/>
<circle cx="39.90" cy="315.70" r="1.05" fill="#c8202f"/>
<circle cx="39.90" cy="318.60" r="1.05" fill="#c8202f"/>
<circle cx="40.50" cy="318.00" r="1.05" fill="#c8202f"/>
<circle cx="40.50" cy="320.40" r="1.05" fill="#c8202f"/>
<circle cx="41.10" cy="319.80" r="1.05" fill="#c8202f"/>
<circle cx="41.70" cy="313.60" r="1.05" fill="#c8202f"/>
<circle cx="41.70" cy="316.80" r="1.05" fill="#c8202f"/>
<circle cx="42.30" cy="316.80" r="1.05" fill="#c8202f"/>
<circle cx="42.90" cy="318.60" r="1.05" fill="#c8202f"/>
<circle cx="43.50" cy="315.40" r="1.05" fill="#c8202f"/>
<circle cx="44.10" cy="317.40" r="1.05" fill="#c8202f"/>
<circle cx="44.70" cy="318.60" r="1.05" fill="#c8202f"/>
<circle cx="45.30" cy="316.30" r="1.05" fill="#c8202f"/>
<circle cx="45.90" cy="319.20" r="1.05" fill="#c8202f"/>
<circle cx="46.50" cy="318.00" r="1.05" fill="#c8202f"/>
<circle cx="47.70" cy="317.20" r="1.05" fill="#c8202f"/>
<circle cx="48.30" cy="318.60" r="1.05" fill="#c8202f"/>
<circle cx="48.90" cy="319.80" r="1.05" fill="#c8202f"/>
<circle cx="53.60" cy="318.60" r="1.05" fill="#c8202f"/>
<circle cx="54.80" cy="317.70" r="1.05" fill="#c8202f"/>
<circle cx="56.60" cy="318.60" r="1.05" fill="#c8202f"/>
<circle cx="35.10" cy="320.40" r="1.05" fill="#c8202f"/>
<circle cx="38.10" cy="319.80" r="1.05" fill="#c8202f"/>
<circle cx="42.90" cy="320.40" r="1.05" fill="#c8202f"/>
<circle cx="34.90" cy="279.10" r="1.05" fill="#c8202f"/>
<line x1="140.80" y1="268.60" x2="140.80" y2="321.50" stroke="#231f20" stroke-width="1.0"/>
<line x1="139.00" y1="321.00" x2="140.80" y2="321.00" stroke="#231f20" stroke-width="0.8"/>
<text x="138.00" y="323.00" font-size="5.8" fill="#2a2a2a" text-anchor="end" textLength="2.70" lengthAdjust="spacingAndGlyphs" stroke="#2a2a2a" stroke-width="0.12">0</text>
<line x1="139.00" y1="310.52" x2="140.80" y2="310.52" stroke="#231f20" stroke-width="0.8"/>
<text x="138.00" y="312.52" font-size="5.8" fill="#2a2a2a" text-anchor="end" textLength="5.40" lengthAdjust="spacingAndGlyphs" stroke="#2a2a2a" stroke-width="0.12">10</text>
<line x1="139.00" y1="300.04" x2="140.80" y2="300.04" stroke="#231f20" stroke-width="0.8"/>
<text x="138.00" y="302.04" font-size="5.8" fill="#2a2a2a" text-anchor="end" textLength="5.40" lengthAdjust="spacingAndGlyphs" stroke="#2a2a2a" stroke-width="0.12">20</text>
<line x1="139.00" y1="289.56" x2="140.80" y2="289.56" stroke="#231f20" stroke-width="0.8"/>
<text x="138.00" y="291.56" font-size="5.8" fill="#2a2a2a" text-anchor="end" textLength="5.40" lengthAdjust="spacingAndGlyphs" stroke="#2a2a2a" stroke-width="0.12">30</text>
<line x1="139.00" y1="279.08" x2="140.80" y2="279.08" stroke="#231f20" stroke-width="0.8"/>
<text x="138.00" y="281.08" font-size="5.8" fill="#2a2a2a" text-anchor="end" textLength="5.40" lengthAdjust="spacingAndGlyphs" stroke="#2a2a2a" stroke-width="0.12">40</text>
<line x1="139.00" y1="268.60" x2="140.80" y2="268.60" stroke="#231f20" stroke-width="0.8"/>
<text x="138.00" y="270.60" font-size="5.8" fill="#2a2a2a" text-anchor="end" textLength="5.40" lengthAdjust="spacingAndGlyphs" stroke="#2a2a2a" stroke-width="0.12">50</text>
<line x1="140.80" y1="321.00" x2="200.30" y2="321.00" stroke="#231f20" stroke-width="1.0"/>
<line x1="204.80" y1="321.00" x2="219.00" y2="321.00" stroke="#231f20" stroke-width="1.0"/>
<line x1="200.30" y1="321.00" x2="200.30" y2="319.20" stroke="#231f20" stroke-width="0.8"/>
<line x1="204.80" y1="321.00" x2="204.80" y2="319.20" stroke="#231f20" stroke-width="0.8"/>
<line x1="140.80" y1="321.00" x2="140.80" y2="322.60" stroke="#231f20" stroke-width="0.8"/>
<text x="140.80" y="331.20" font-size="5.8" fill="#2a2a2a" text-anchor="middle" textLength="2.80" lengthAdjust="spacingAndGlyphs" stroke="#2a2a2a" stroke-width="0.12">0</text>
<line x1="155.40" y1="321.00" x2="155.40" y2="322.60" stroke="#231f20" stroke-width="0.8"/>
<text x="155.40" y="331.20" font-size="5.8" fill="#2a2a2a" text-anchor="middle" textLength="2.80" lengthAdjust="spacingAndGlyphs" stroke="#2a2a2a" stroke-width="0.12">2</text>
<line x1="170.00" y1="321.00" x2="170.00" y2="322.60" stroke="#231f20" stroke-width="0.8"/>
<text x="170.00" y="331.20" font-size="5.8" fill="#2a2a2a" text-anchor="middle" textLength="2.80" lengthAdjust="spacingAndGlyphs" stroke="#2a2a2a" stroke-width="0.12">4</text>
<line x1="184.60" y1="321.00" x2="184.60" y2="322.60" stroke="#231f20" stroke-width="0.8"/>
<text x="184.60" y="331.20" font-size="5.8" fill="#2a2a2a" text-anchor="middle" textLength="2.80" lengthAdjust="spacingAndGlyphs" stroke="#2a2a2a" stroke-width="0.12">6</text>
<line x1="199.30" y1="321.00" x2="199.30" y2="322.60" stroke="#231f20" stroke-width="0.8"/>
<text x="199.30" y="331.20" font-size="5.8" fill="#2a2a2a" text-anchor="middle" textLength="2.80" lengthAdjust="spacingAndGlyphs" stroke="#2a2a2a" stroke-width="0.12">8</text>
<line x1="205.40" y1="321.00" x2="205.40" y2="322.60" stroke="#231f20" stroke-width="0.8"/>
<text x="205.40" y="331.20" font-size="5.8" fill="#2a2a2a" text-anchor="middle" textLength="5.60" lengthAdjust="spacingAndGlyphs" stroke="#2a2a2a" stroke-width="0.12">14</text>
<line x1="212.00" y1="321.00" x2="212.00" y2="322.60" stroke="#231f20" stroke-width="0.8"/>
<text x="212.00" y="331.20" font-size="5.8" fill="#2a2a2a" text-anchor="middle" textLength="5.60" lengthAdjust="spacingAndGlyphs" stroke="#2a2a2a" stroke-width="0.12">16</text>
<line x1="218.50" y1="321.00" x2="218.50" y2="322.60" stroke="#231f20" stroke-width="0.8"/>
<text x="218.50" y="331.20" font-size="5.8" fill="#2a2a2a" text-anchor="middle" textLength="5.60" lengthAdjust="spacingAndGlyphs" stroke="#2a2a2a" stroke-width="0.12">18</text>
<text x="160.80" y="263.10" font-size="9.9" fill="#231f20" text-anchor="start" textLength="25.00" lengthAdjust="spacingAndGlyphs" stroke="#231f20" stroke-width="0.32">CD56</text>
<text x="186.20" y="259.40" font-size="6.5" fill="#231f20" text-anchor="start" stroke="#231f20" stroke-width="0.3">+</text>
<text x="191.50" y="263.10" font-size="9.9" fill="#231f20" text-anchor="start" textLength="15.40" lengthAdjust="spacingAndGlyphs" stroke="#231f20" stroke-width="0.32">NK</text>
<text x="189.20" y="271.50" font-size="7.4" fill="#333" text-anchor="start" textLength="27.30" lengthAdjust="spacingAndGlyphs">r=0.002</text>
<text x="189.20" y="281.20" font-size="7.4" fill="#333" text-anchor="start" textLength="25.00" lengthAdjust="spacingAndGlyphs">p=0.98</text>
<text transform="translate(125.20,295.00) rotate(-90)" font-size="7.9" fill="#333" stroke="#333" stroke-width="0.14" text-anchor="middle" textLength="72.00" lengthAdjust="spacingAndGlyphs">Freq. of live PBMC (%)</text>
<circle cx="148.50" cy="281.40" r="1.05" fill="#c8202f"/>
<circle cx="164.70" cy="295.00" r="1.05" fill="#c8202f"/>
<circle cx="208.40" cy="302.90" r="1.05" fill="#c8202f"/>
<circle cx="174.40" cy="315.30" r="1.05" fill="#c8202f"/>
<circle cx="184.00" cy="313.90" r="1.05" fill="#c8202f"/>
<circle cx="144.10" cy="300.20" r="1.05" fill="#c8202f"/>
<circle cx="145.30" cy="300.20" r="1.05" fill="#c8202f"/>
<circle cx="148.50" cy="297.30" r="1.05" fill="#c8202f"/>
<circle cx="150.10" cy="298.60" r="1.05" fill="#c8202f"/>
<circle cx="149.30" cy="301.00" r="1.05" fill="#c8202f"/>
<circle cx="150.90" cy="301.00" r="1.05" fill="#c8202f"/>
<circle cx="142.20" cy="307.40" r="1.05" fill="#c8202f"/>
<circle cx="141.40" cy="308.20" r="1.05" fill="#c8202f"/>
<circle cx="146.10" cy="307.40" r="1.05" fill="#c8202f"/>
<circle cx="146.10" cy="304.20" r="1.05" fill="#c8202f"/>
<circle cx="148.50" cy="305.30" r="1.05" fill="#c8202f"/>
<circle cx="150.90" cy="305.30" r="1.05" fill="#c8202f"/>
<circle cx="153.30" cy="304.20" r="1.05" fill="#c8202f"/>
<circle cx="155.70" cy="306.20" r="1.05" fill="#c8202f"/>
<circle cx="154.10" cy="310.50" r="1.05" fill="#c8202f"/>
<circle cx="156.50" cy="312.60" r="1.05" fill="#c8202f"/>
<circle cx="162.80" cy="305.30" r="1.05" fill="#c8202f"/>
<circle cx="161.20" cy="307.40" r="1.05" fill="#c8202f"/>
<circle cx="143.00" cy="312.90" r="1.05" fill="#c8202f"/>
<circle cx="146.10" cy="312.10" r="1.05" fill="#c8202f"/>
<circle cx="147.70" cy="311.00" r="1.05" fill="#c8202f"/>
<circle cx="149.30" cy="312.10" r="1.05" fill="#c8202f"/>
<circle cx="147.70" cy="314.50" r="1.05" fill="#c8202f"/>
<circle cx="150.10" cy="315.30" r="1.05" fill="#c8202f"/>
<circle cx="142.20" cy="316.90" r="1.05" fill="#c8202f"/>
<circle cx="141.40" cy="318.50" r="1.05" fill="#c8202f"/>
<circle cx="146.90" cy="318.20" r="1.05" fill="#c8202f"/>
<circle cx="151.70" cy="318.50" r="1.05" fill="#c8202f"/>
<circle cx="153.30" cy="319.60" r="1.05" fill="#c8202f"/>
<circle cx="155.70" cy="320.10" r="1.05" fill="#c8202f"/>
<circle cx="148.50" cy="309.70" r="1.05" fill="#c8202f"/>
<line x1="256.50" y1="270.00" x2="256.50" y2="321.60" stroke="#231f20" stroke-width="1.0"/>
<line x1="254.70" y1="321.10" x2="256.50" y2="321.10" stroke="#231f20" stroke-width="0.8"/>
<text x="253.70" y="323.10" font-size="5.8" fill="#2a2a2a" text-anchor="end" textLength="2.70" lengthAdjust="spacingAndGlyphs" stroke="#2a2a2a" stroke-width="0.12">0</text>
<line x1="254.70" y1="310.92" x2="256.50" y2="310.92" stroke="#231f20" stroke-width="0.8"/>
<text x="253.70" y="312.92" font-size="5.8" fill="#2a2a2a" text-anchor="end" textLength="8.10" lengthAdjust="spacingAndGlyphs" stroke="#2a2a2a" stroke-width="0.12">200</text>
<line x1="254.70" y1="300.74" x2="256.50" y2="300.74" stroke="#231f20" stroke-width="0.8"/>
<text x="253.70" y="302.74" font-size="5.8" fill="#2a2a2a" text-anchor="end" textLength="8.10" lengthAdjust="spacingAndGlyphs" stroke="#2a2a2a" stroke-width="0.12">400</text>
<line x1="254.70" y1="290.56" x2="256.50" y2="290.56" stroke="#231f20" stroke-width="0.8"/>
<text x="253.70" y="292.56" font-size="5.8" fill="#2a2a2a" text-anchor="end" textLength="8.10" lengthAdjust="spacingAndGlyphs" stroke="#2a2a2a" stroke-width="0.12">600</text>
<line x1="254.70" y1="280.38" x2="256.50" y2="280.38" stroke="#231f20" stroke-width="0.8"/>
<text x="253.70" y="282.38" font-size="5.8" fill="#2a2a2a" text-anchor="end" textLength="8.10" lengthAdjust="spacingAndGlyphs" stroke="#2a2a2a" stroke-width="0.12">800</text>
<line x1="254.70" y1="270.20" x2="256.50" y2="270.20" stroke="#231f20" stroke-width="0.8"/>
<text x="253.70" y="272.20" font-size="5.8" fill="#2a2a2a" text-anchor="end" textLength="10.80" lengthAdjust="spacingAndGlyphs" stroke="#2a2a2a" stroke-width="0.12">1000</text>
<line x1="256.50" y1="321.10" x2="334.00" y2="321.10" stroke="#231f20" stroke-width="1.0"/>
<line x1="256.60" y1="321.10" x2="256.60" y2="322.70" stroke="#231f20" stroke-width="0.8"/>
<text x="256.60" y="331.20" font-size="5.8" fill="#2a2a2a" text-anchor="middle" textLength="2.80" lengthAdjust="spacingAndGlyphs" stroke="#2a2a2a" stroke-width="0.12">0</text>
<line x1="275.90" y1="321.10" x2="275.90" y2="322.70" stroke="#231f20" stroke-width="0.8"/>
<text x="275.90" y="331.20" font-size="5.8" fill="#2a2a2a" text-anchor="middle" textLength="2.80" lengthAdjust="spacingAndGlyphs" stroke="#2a2a2a" stroke-width="0.12">2</text>
<line x1="295.10" y1="321.10" x2="295.10" y2="322.70" stroke="#231f20" stroke-width="0.8"/>
<text x="295.10" y="331.20" font-size="5.8" fill="#2a2a2a" text-anchor="middle" textLength="2.80" lengthAdjust="spacingAndGlyphs" stroke="#2a2a2a" stroke-width="0.12">4</text>
<line x1="314.40" y1="321.10" x2="314.40" y2="322.70" stroke="#231f20" stroke-width="0.8"/>
<text x="314.40" y="331.20" font-size="5.8" fill="#2a2a2a" text-anchor="middle" textLength="2.80" lengthAdjust="spacingAndGlyphs" stroke="#2a2a2a" stroke-width="0.12">6</text>
<line x1="333.50" y1="321.10" x2="333.50" y2="322.70" stroke="#231f20" stroke-width="0.8"/>
<text x="333.50" y="331.20" font-size="5.8" fill="#2a2a2a" text-anchor="middle" textLength="2.80" lengthAdjust="spacingAndGlyphs" stroke="#2a2a2a" stroke-width="0.12">8</text>
<text x="274.90" y="263.20" font-size="9.9" fill="#231f20" text-anchor="start" textLength="40.30" lengthAdjust="spacingAndGlyphs" stroke="#231f20" stroke-width="0.32">NK count</text>
<text x="302.50" y="271.50" font-size="7.4" fill="#333" text-anchor="start" textLength="27.60" lengthAdjust="spacingAndGlyphs">r=–0.08</text>
<text x="302.50" y="281.20" font-size="7.4" fill="#333" text-anchor="start" textLength="25.00" lengthAdjust="spacingAndGlyphs">p=0.57</text>
<text transform="translate(235.50,295.60) rotate(-90)" font-size="7.9" fill="#333" stroke="#333" stroke-width="0.14" text-anchor="middle" textLength="49.00" lengthAdjust="spacingAndGlyphs">Cells /µl blood</text>
<circle cx="265.80" cy="278.00" r="1.05" fill="#c8202f"/>
<circle cx="260.00" cy="296.10" r="1.05" fill="#c8202f"/>
<circle cx="265.20" cy="302.60" r="1.05" fill="#c8202f"/>
<circle cx="266.10" cy="302.60" r="1.05" fill="#c8202f"/>
<circle cx="271.60" cy="304.20" r="1.05" fill="#c8202f"/>
<circle cx="283.40" cy="304.70" r="1.05" fill="#c8202f"/>
<circle cx="299.80" cy="314.60" r="1.05" fill="#c8202f"/>
<circle cx="285.50" cy="318.00" r="1.05" fill="#c8202f"/>
<circle cx="312.30" cy="319.90" r="1.05" fill="#c8202f"/>
<circle cx="256.90" cy="312.00" r="1.05" fill="#c8202f"/>
<circle cx="258.30" cy="314.20" r="1.05" fill="#c8202f"/>
<circle cx="257.80" cy="317.70" r="1.05" fill="#c8202f"/>
<circle cx="262.10" cy="311.60" r="1.05" fill="#c8202f"/>
<circle cx="263.50" cy="310.40" r="1.05" fill="#c8202f"/>
<circle cx="264.70" cy="312.50" r="1.05" fill="#c8202f"/>
<circle cx="266.40" cy="311.60" r="1.05" fill="#c8202f"/>
<circle cx="268.20" cy="310.40" r="1.05" fill="#c8202f"/>
<circle cx="269.00" cy="311.60" r="1.05" fill="#c8202f"/>
<circle cx="263.80" cy="316.00" r="1.05" fill="#c8202f"/>
<circle cx="265.60" cy="317.30" r="1.05" fill="#c8202f"/>
<circle cx="267.30" cy="317.70" r="1.05" fill="#c8202f"/>
<circle cx="270.80" cy="316.80" r="1.05" fill="#c8202f"/>
<circle cx="271.60" cy="319.80" r="1.05" fill="#c8202f"/>
<circle cx="274.20" cy="311.60" r="1.05" fill="#c8202f"/>
<circle cx="276.00" cy="312.50" r="1.05" fill="#c8202f"/>
<circle cx="276.80" cy="314.20" r="1.05" fill="#c8202f"/>
<circle cx="275.10" cy="317.70" r="1.05" fill="#c8202f"/>
<circle cx="275.10" cy="320.80" r="1.05" fill="#c8202f"/>
<circle cx="258.70" cy="320.30" r="1.05" fill="#c8202f"/>
<circle cx="263.00" cy="317.70" r="1.05" fill="#c8202f"/>
<circle cx="260.50" cy="313.00" r="1.05" fill="#c8202f"/>
<circle cx="268.00" cy="314.50" r="1.05" fill="#c8202f"/>
<circle cx="272.50" cy="313.50" r="1.05" fill="#c8202f"/>
<text x="21.90" y="341.70" font-size="9.4" fill="#231f20" text-anchor="start" textLength="20.20" lengthAdjust="spacingAndGlyphs" stroke="#231f20" stroke-width="0.25">ANC</text>
<line x1="46.00" y1="338.50" x2="334.00" y2="338.50" stroke="#231f20" stroke-width="1.4"/>
</svg></body></html>
